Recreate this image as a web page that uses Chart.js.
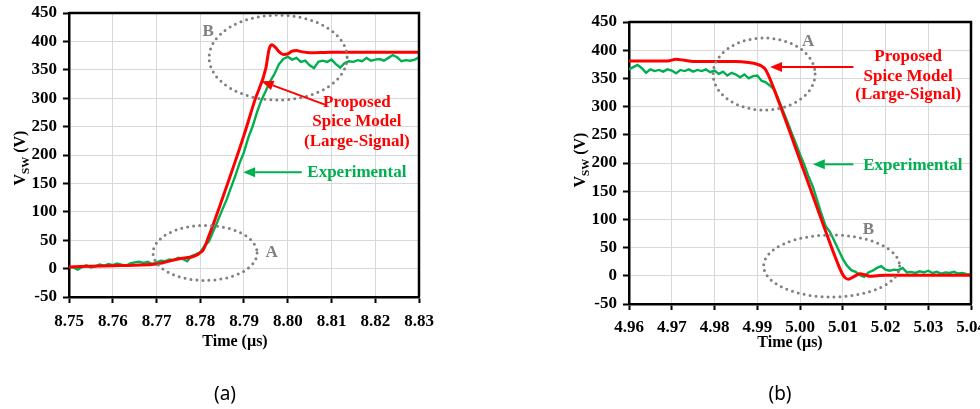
<!DOCTYPE html>
<html><head><meta charset="utf-8">
<script src="https://cdn.jsdelivr.net/npm/chart.js@4/dist/chart.umd.min.js"></script>
<style>
html,body{margin:0;padding:0;background:#fff;overflow:hidden;width:980px;height:409px;position:relative}
canvas{position:absolute;top:0}
#ca{left:0}
#cb{left:490px}
.cap{position:absolute;top:381px;width:60px;text-align:center;line-height:24px;font-family:"Noto Sans",sans-serif;font-size:19px;color:#000}
</style></head><body>
<canvas id="ca" width="490" height="409"></canvas>
<canvas id="cb" width="490" height="409"></canvas>
<div class="cap" style="left:195px">(a)</div>
<div class="cap" style="left:750px">(b)</div>
<script>
// ---------- DATA (a): turn-on ----------
const xTicksA = [8.75, 8.76, 8.77, 8.78, 8.79, 8.80, 8.81, 8.82, 8.83];
const yTicks = [-50, 0, 50, 100, 150, 200, 250, 300, 350, 400, 450];

const modelTimeA = [8.75, 8.755, 8.76, 8.765, 8.77, 8.775, 8.7805, 8.782, 8.785, 8.79, 8.7925, 8.795, 8.7957, 8.7963, 8.797, 8.798, 8.799, 8.8, 8.801, 8.802, 8.803, 8.805, 8.81, 8.83];
const modelVA    = [3, 4, 5, 6, 8, 17, 31, 58, 122, 235, 297, 353, 385, 394, 391, 382, 377, 378, 383, 384, 382, 380, 381, 381];

const expTimeA = [8.750,8.751,8.752,8.753,8.754,8.755,8.756,8.757,8.758,8.759,
  8.760,8.761,8.762,8.763,8.764,8.765,8.766,8.767,8.768,8.769,
  8.770,8.771,8.772,8.773,8.774,8.775,8.776,8.777,8.778,8.779,
  8.780,8.781,8.782,8.783,8.784,8.785,8.786,8.787,8.788,8.789,
  8.790,8.791,8.792,8.793,8.794,8.795,8.796,8.797,8.798,8.799,
  8.800,8.801,8.802,8.803,8.804,8.805,8.806,8.807,8.808,8.809,
  8.810,8.811,8.812,8.813,8.814,8.815,8.816,8.817,8.818,8.819,
  8.820,8.821,8.822,8.823,8.824,8.825,8.826,8.827,8.828,8.829,8.830];
const expVA = [3,2,-2,3,6,2,4,7,5,8,
  6,9,7,5,9,11,12,10,12,8,
  11,14,13,16,15,19,17,13,22,25,
  29,40,48,66,84,103,121,142,163,186,
  205,231,251,276,297,313,330,343,360,369,
  373,368,371,364,366,358,353,364,366,364,
  368,360,354,362,365,364,367,365,371,366,
  368,369,366,371,376,372,365,367,366,368,372];

// ---------- DATA (b): turn-off ----------
const xTicksB = [4.96, 4.97, 4.98, 4.99, 5.00, 5.01, 5.02, 5.03, 5.04];

const modelTimeB = [4.96, 4.965, 4.969, 4.971, 4.973, 4.975, 4.98, 4.985, 4.988, 4.99, 4.991, 4.992, 4.995, 5.0, 5.005, 5.008, 5.0098, 5.0105, 5.0113, 5.0125, 5.014, 5.0155, 5.0165, 5.018, 5.02, 5.04];
const modelVB    = [381, 381, 381, 384, 382, 380, 380, 380, 378, 375, 372, 365, 309, 205, 100, 38, 5, -3, -6, -2, 3.5, 1, -1, 0, 1, 1];

const expTimeB = [4.960,4.961,4.962,4.963,4.964,4.965,4.966,4.967,4.968,4.969,
  4.970,4.971,4.972,4.973,4.974,4.975,4.976,4.977,4.978,4.979,
  4.980,4.981,4.982,4.983,4.984,4.985,4.986,4.987,4.988,4.989,
  4.990,4.991,4.992,4.993,4.994,4.995,4.996,4.997,4.998,4.999,
  5.000,5.001,5.002,5.003,5.004,5.005,5.006,5.007,5.008,5.009,
  5.010,5.011,5.012,5.013,5.014,5.015,5.016,5.017,5.018,5.019,
  5.020,5.021,5.022,5.023,5.024,5.025,5.026,5.027,5.028,5.029,
  5.030,5.031,5.032,5.033,5.034,5.035,5.036,5.037,5.038,5.039,5.040];
const expVB = [366,370,374,368,360,366,363,365,362,366,
  364,359,365,363,366,362,365,363,366,361,
  364,358,362,355,360,357,352,357,350,354,
  355,346,343,337,330,312,293,274,254,235,
  215,197,176,158,134,110,88,78,62,46,
  30,18,10,7,1,-2,6,9,14,17,
  11,9,11,10,14,6,7,5,8,6,
  9,5,7,4,6,5,7,4,5,3,2];

// ---------- helpers ----------
function pts(xs, ys){ return xs.map((x,i)=>({x:x, y:ys[i]})); }
const SERIF = '"Liberation Serif", "Times New Roman", serif';
const RED = '#ff0000', GREEN = '#00b050', GREY = '#808080';

const overlay = {
  id: 'overlay',
  afterDatasetsDraw(chart, args, o) {
    const {ctx, chartArea: a, scales: {x, y}} = chart;
    const px = v => x.getPixelForValue(v), py = v => y.getPixelForValue(v);
    ctx.save();
    // top & right frame
    ctx.strokeStyle = '#000'; ctx.lineWidth = 2.5;
    ctx.beginPath(); ctx.moveTo(a.left, a.top); ctx.lineTo(a.right, a.top); ctx.lineTo(a.right, a.bottom); ctx.stroke();
    // dotted ellipses
    ctx.strokeStyle = GREY; ctx.lineWidth = 3; ctx.lineCap = 'round'; ctx.setLineDash([0, 6]);
    o.ellipses.forEach(e => {
      const cx = px(e.cx), cy = py(e.cy);
      const rx = Math.abs(px(e.cx + e.rx) - cx), ry = Math.abs(py(e.cy + e.ry) - cy);
      ctx.beginPath(); ctx.ellipse(cx, cy, rx, ry, 0, 0, Math.PI * 2); ctx.stroke();
    });
    ctx.setLineDash([]); ctx.lineCap = 'butt';
    // letters
    ctx.fillStyle = GREY; ctx.font = 'bold 17px ' + SERIF; ctx.textAlign = 'center'; ctx.textBaseline = 'middle';
    o.letters.forEach(l => ctx.fillText(l.t, px(l.x), py(l.y)));
    // notes
    ctx.font = 'bold 17px ' + SERIF;
    o.notes.forEach(n => { ctx.fillStyle = n.c; ctx.fillText(n.t, px(n.x), py(n.y)); });
    // arrows
    o.arrows.forEach(ar => {
      const x0 = px(ar.x0), y0 = py(ar.y0), x1 = px(ar.x1), y1 = py(ar.y1);
      const ang = Math.atan2(y1 - y0, x1 - x0), L = 12, W = 5;
      const bx = x1 - L * Math.cos(ang), by = y1 - L * Math.sin(ang);
      ctx.strokeStyle = ar.c; ctx.fillStyle = ar.c; ctx.lineWidth = 2;
      ctx.beginPath(); ctx.moveTo(x0, y0); ctx.lineTo(bx, by); ctx.stroke();
      ctx.beginPath(); ctx.moveTo(x1, y1);
      ctx.lineTo(bx + W * Math.sin(ang), by - W * Math.cos(ang));
      ctx.lineTo(bx - W * Math.sin(ang), by + W * Math.cos(ang));
      ctx.closePath(); ctx.fill();
    });
    // x title
    ctx.fillStyle = '#000'; ctx.font = 'bold 16px ' + SERIF; ctx.textAlign = 'center'; ctx.textBaseline = 'middle';
    ctx.fillText('Time (\u00b5s)', (a.left + a.right) / 2 + o.xTitleDx, a.bottom + o.xTitleDy);
    // y title with subscript
    ctx.translate(a.left - 49, (a.top + a.bottom) / 2 + o.yTitleDy);
    ctx.rotate(-Math.PI / 2);
    ctx.textAlign = 'left'; ctx.textBaseline = 'alphabetic';
    const f1 = 'bold 16px ' + SERIF, f2 = 'bold 11px ' + SERIF;
    ctx.font = f1; const w1 = ctx.measureText('V').width, w3 = ctx.measureText(' (V)').width;
    ctx.font = f2; const w2 = ctx.measureText('SW').width;
    const s = -(w1 + w2 + w3) / 2;
    ctx.font = f1; ctx.fillText('V', s, 5);
    ctx.font = f2; ctx.fillText('SW', s + w1, 9);
    ctx.font = f1; ctx.fillText(' (V)', s + w1 + w2, 5);
    ctx.restore();
  }
};

function makeChart(id, c) {
  return new Chart(document.getElementById(id), {
    type: 'line',
    data: { datasets: [
      { label: 'Proposed Spice Model (Large-Signal)', data: pts(c.mt, c.mv), borderColor: RED, borderWidth: 3,
        pointRadius: 0, cubicInterpolationMode: 'monotone', order: 0 },
      { label: 'Experimental', data: pts(c.et, c.ev), borderColor: GREEN, borderWidth: 2.4,
        pointRadius: 0, tension: 0, order: 1 }
    ]},
    options: {
      responsive: false, animation: false, events: [],
      layout: { padding: { left: 0, top: c.top, right: c.right, bottom: 0 } },
      plugins: { legend: { display: false }, tooltip: { enabled: false }, overlay: c.overlay },
      scales: {
        x: {
          type: 'linear', min: c.xt[0], max: c.xt[c.xt.length - 1],
          afterBuildTicks: s => { s.ticks = c.xt.map(v => ({ value: v })); },
          afterFit: s => { s.height = c.xh; s.paddingLeft = 0; s.paddingRight = 0; },
          grid: { color: '#d9d9d9', lineWidth: 1, tickLength: 6, tickColor: '#000', tickWidth: 2 },
          border: { color: '#000', width: 2.5 },
          ticks: { font: { family: SERIF, size: 17, weight: 'bold' }, color: '#000', padding: c.xpad,
            maxRotation: 0, autoSkip: false, callback: v => Number(v).toFixed(2) }
        },
        y: {
          type: 'linear', min: yTicks[0], max: yTicks[yTicks.length - 1],
          afterBuildTicks: s => { s.ticks = yTicks.map(v => ({ value: v })); },
          afterFit: s => { s.width = c.yw; s.paddingTop = 0; s.paddingBottom = 0; },
          grid: { color: '#d9d9d9', lineWidth: 1, tickLength: 6, tickColor: '#000', tickWidth: 2 },
          border: { color: '#000', width: 2.5 },
          ticks: { font: { family: SERIF, size: 17, weight: 'bold' }, color: '#000', padding: 6,
            autoSkip: false, callback: v => String(v) }
        }
      }
    },
    plugins: [overlay]
  });
}

makeChart('ca', {
  mt: modelTimeA, mv: modelVA, et: expTimeA, ev: expVA, xt: xTicksA,
  top: 13, right: 71, xh: 112, yw: 69, xpad: 8,
  overlay: {
    xTitleDx: -9, xTitleDy: 45, yTitleDy: 3,
    ellipses: [ { cx: 8.7978, cy: 371.5, rx: 0.01577, ry: 74.8 }, { cx: 8.7811, cy: 27.6, rx: 0.01189, ry: 48.4 } ],
    letters: [ { t: 'B', x: 8.7818, y: 417 }, { t: 'A', x: 8.7963, y: 27.6 } ],
    notes: [
      { t: 'Proposed', x: 8.8158, y: 292, c: RED },
      { t: 'Spice Model', x: 8.8158, y: 259, c: RED },
      { t: '(Large-Signal)', x: 8.8158, y: 224, c: RED },
      { t: 'Experimental', x: 8.8158, y: 168.5, c: GREEN }
    ],
    arrows: [
      { x0: 8.8085, y0: 288.7, x1: 8.7940, y1: 329.8, c: RED },
      { x0: 8.8032, y0: 169.5, x1: 8.7898, y1: 169.5, c: GREEN }
    ]
  }
});

makeChart('cb', {
  mt: modelTimeB, mv: modelVB, et: expTimeB, ev: expVB, xt: xTicksB,
  top: 22, right: 9, xh: 105, yw: 139, xpad: 7,
  overlay: {
    xTitleDx: -10, xTitleDy: 39, yTitleDy: -3,
    ellipses: [ { cx: 4.9916, cy: 357.8, rx: 0.01193, ry: 63.8 }, { cx: 5.0074, cy: 17.4, rx: 0.0159, ry: 55 } ],
    letters: [ { t: 'A', x: 5.0019, y: 415 }, { t: 'B', x: 5.016, y: 82.4 } ],
    notes: [
      { t: 'Proposed', x: 5.0253, y: 388, c: RED },
      { t: 'Spice Model', x: 5.0253, y: 354, c: RED },
      { t: '(Large-Signal)', x: 5.0253, y: 320.6, c: RED },
      { t: 'Experimental', x: 5.0264, y: 194.7, c: GREEN }
    ],
    arrows: [
      { x0: 5.0125, y0: 370, x1: 4.9930, y1: 370, c: RED },
      { x0: 5.0125, y0: 197.7, x1: 5.0030, y1: 197.7, c: GREEN }
    ]
  }
});
</script>
</body></html>
